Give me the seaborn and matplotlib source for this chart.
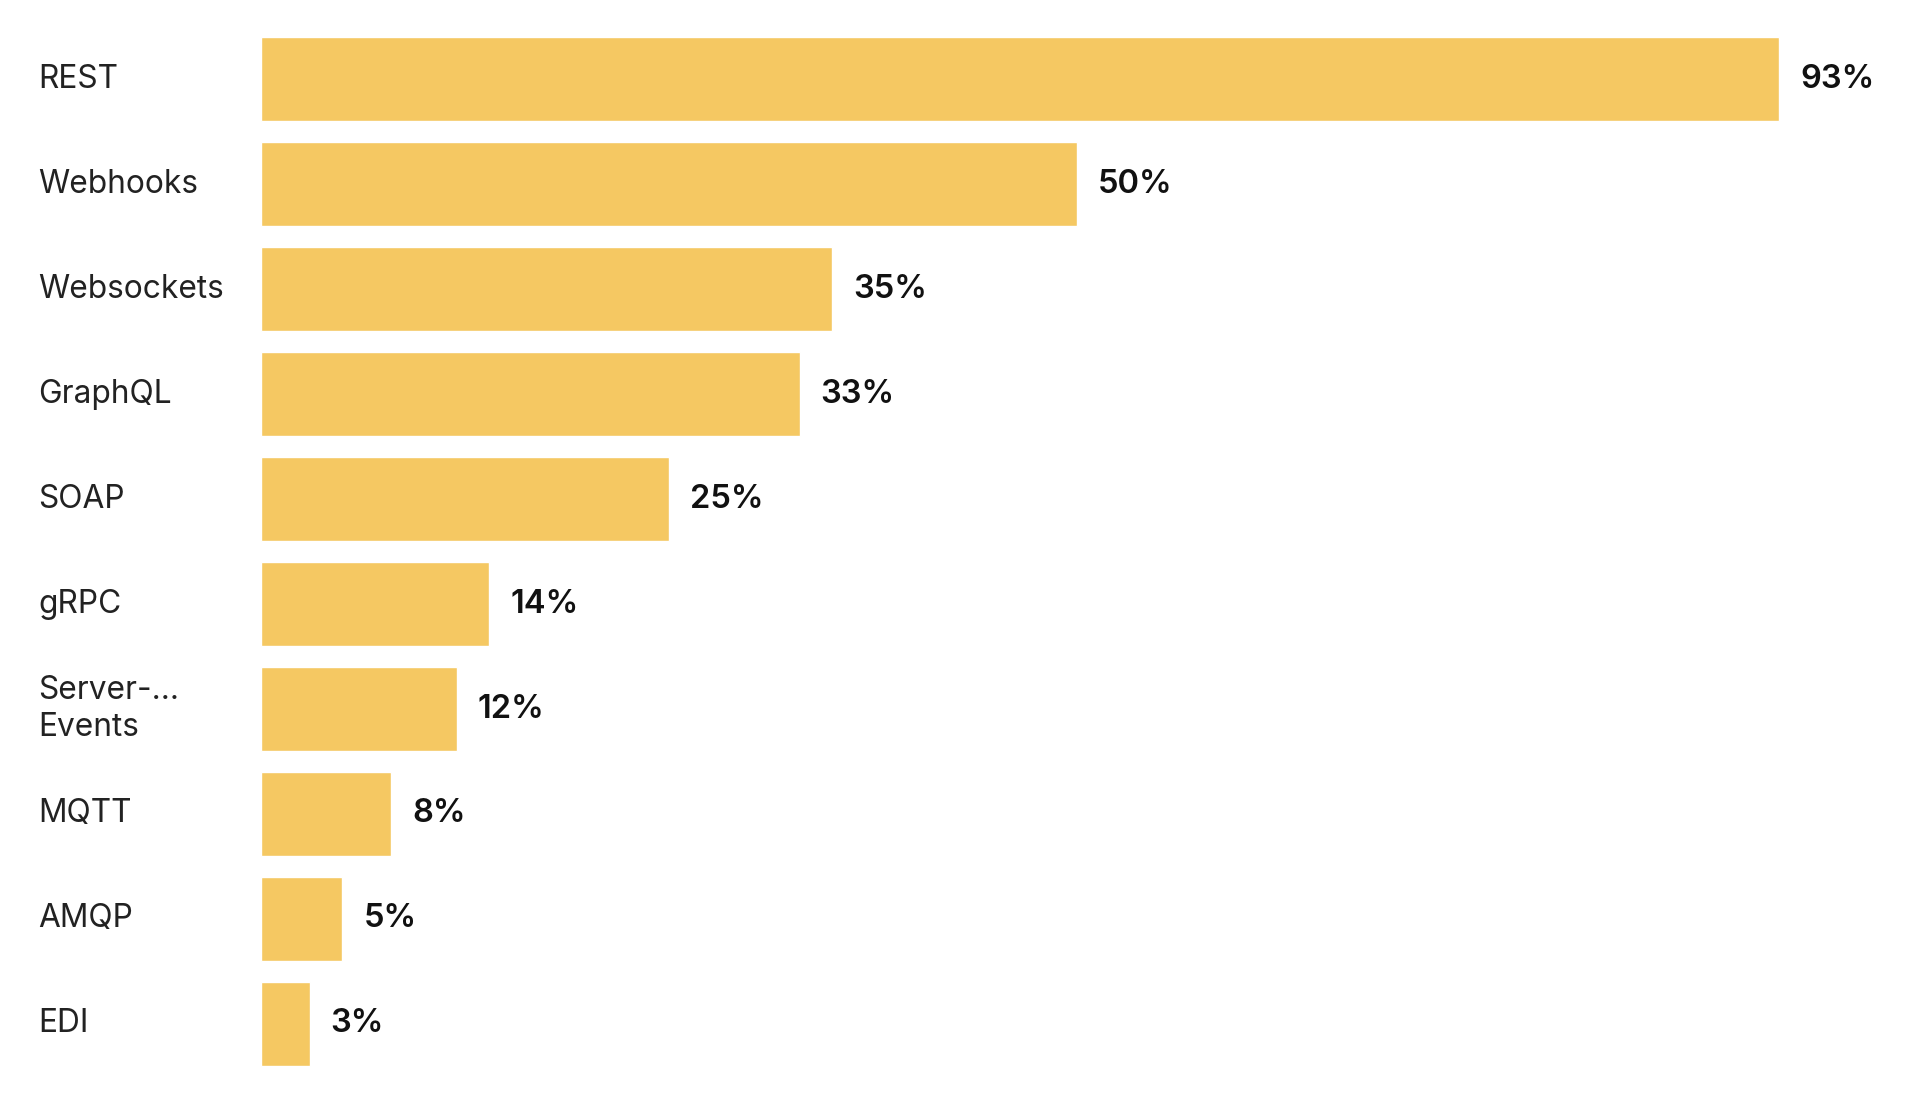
import matplotlib
matplotlib.use('Agg')
import matplotlib.pyplot as plt
import seaborn as sns
import pandas as pd

# API styles used (percent of respondents)
categories = ['REST', 'Webhooks', 'Websockets', 'GraphQL', 'SOAP', 'gRPC',
              'Server-...\nEvents', 'MQTT', 'AMQP', 'EDI']
values = [93, 50, 35, 33, 25, 14, 12, 8, 5, 3]
value_labels = [f'{v}%' for v in values]

df = pd.DataFrame({'category': categories, 'value': values})

sns.set_theme(style='white')
plt.rcParams['font.family'] = ['Inter', 'DejaVu Sans']

fig = plt.figure(figsize=(19.32, 10.96), dpi=100)
ax = fig.add_axes([0.135, 0.0178, 0.845, 0.958])

sns.barplot(data=df, x='value', y='category', color='#F5C862', saturation=1,
            width=0.8, ax=ax)

ax.bar_label(ax.containers[0], labels=value_labels, padding=15,
             fontsize=23.5, fontweight='semibold', color='#111111')

ax.set_xlim(0, 100)
ax.set_ylim(9.5, -0.5)
ax.set_xlabel('')
ax.set_ylabel('')
ax.set_xticks([])
sns.despine(ax=ax, left=True, bottom=True)
ax.tick_params(axis='y', length=0, pad=160.5, labelsize=22.8, labelcolor='#222222')
for lbl in ax.get_yticklabels():
    lbl.set_horizontalalignment('left')
    lbl.set_verticalalignment('center')
    lbl.set_linespacing(1.25)

fig.savefig('out.png', dpi=100)
plt.close('all')
